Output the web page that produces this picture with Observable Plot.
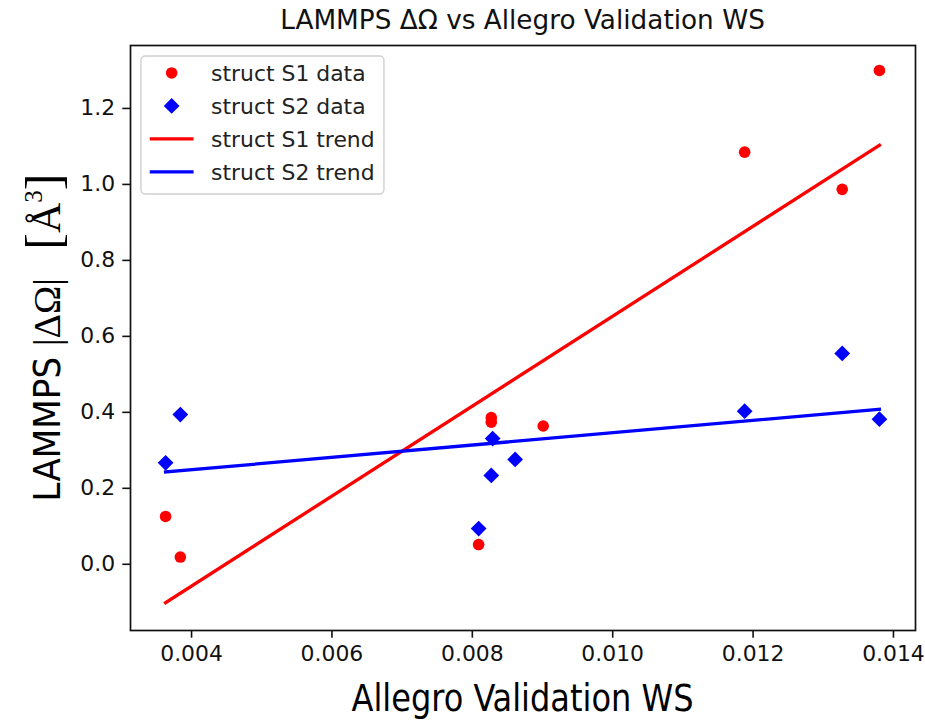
<!DOCTYPE html>
<html>
<head>
<meta charset="utf-8">
<script src="https://cdn.jsdelivr.net/npm/d3@7"></script>
<script src="https://cdn.jsdelivr.net/npm/@observablehq/plot@0.6"></script>
<style>
  html, body { margin: 0; padding: 0; background: #fff; }
  #chart { width: 925px; height: 723px; }
</style>
</head>
<body>
<div id="chart"></div>
<script>
// Validation Wasserstein distance (x) and LAMMPS |ΔΩ| in Å³ (y) for two structures
const s1Ws    = [0.00363, 0.00384, 0.00809, 0.00827, 0.00827, 0.00901, 0.01188, 0.01327, 0.01380];
const s1Omega = [0.126,   0.019,   0.052,   0.386,   0.374,   0.364,   1.085,   0.987,   1.300];
const s2Ws    = [0.00363, 0.00384, 0.00809, 0.00827, 0.00829, 0.00861, 0.01188, 0.01327, 0.01380];
const s2Omega = [0.267,   0.394,   0.094,   0.234,   0.331,   0.276,   0.403,   0.555,   0.382];

// Linear trend lines, evaluated at the ends of the WS range
const trendWs      = [0.00363, 0.01380];
const s1TrendOmega = [-0.101, 1.103];
const s2TrendOmega = [0.243, 0.408];

const xTicks = [0.004, 0.006, 0.008, 0.010, 0.012, 0.014];
const yTicks = [0.0, 0.2, 0.4, 0.6, 0.8, 1.0, 1.2];
const seriesLabels = ["struct S1 data", "struct S2 data", "struct S1 trend", "struct S2 trend"];
const seriesColors = ["#ff0000", "#0000ff", "#ff0000", "#0000ff"];

const titleText = "LAMMPS ΔΩ vs Allegro Validation WS";
const xLabelText = "Allegro Validation WS";

const W = 925, H = 723;
const mL = 130, mR = 10, mT = 45, mB = 93;
const FS = 21.9;

const rows = (xs, ys) => xs.map((x, i) => ({ws: x, omega: ys[i]}));
const s1 = rows(s1Ws, s1Omega);
const s2 = rows(s2Ws, s2Omega);
const s1Trend = rows(trendWs, s1TrendOmega);
const s2Trend = rows(trendWs, s2TrendOmega);

const chart = Plot.plot({
  width: W,
  height: H,
  marginLeft: mL,
  marginRight: mR,
  marginTop: mT,
  marginBottom: mB,
  x: {domain: [0.00313, 0.014314]},
  y: {domain: [-0.1743, 1.3657]},
  style: {fontFamily: "DejaVu Sans", fontSize: FS + "px", color: "#111", background: "#fff", overflow: "visible"},
  marks: [
    Plot.dot(s1, {x: "ws", y: "omega", r: 5.8, fill: seriesColors[0], symbol: "circle"}),
    Plot.dot(s2, {x: "ws", y: "omega", r: 7.1, fill: seriesColors[1], symbol: "diamond2"}),
    Plot.line(s1Trend, {x: "ws", y: "omega", stroke: seriesColors[2], strokeWidth: 3.3, strokeLinecap: "square"}),
    Plot.line(s2Trend, {x: "ws", y: "omega", stroke: seriesColors[3], strokeWidth: 3.3, strokeLinecap: "square"}),
    Plot.axisX({ticks: xTicks, tickFormat: d3.format(".3f"), tickSize: 7.7, tickPadding: 7.7, label: null, strokeWidth: 1.6}),
    Plot.axisY({ticks: yTicks, tickFormat: d3.format(".1f"), tickSize: 7.7, tickPadding: 7.7, label: null, strokeWidth: 1.6}),
    Plot.frame({stroke: "#111", strokeWidth: 1.7})
  ]
});

document.getElementById("chart").appendChild(chart);
const svg = d3.select(chart);
const plotCx = (mL + W - mR) / 2;
const plotCy = (mT + H - mB) / 2;

// Title
svg.append("text")
  .attr("x", plotCx).attr("y", 29)
  .attr("text-anchor", "middle")
  .attr("font-family", "DejaVu Sans")
  .attr("font-size", 26.3)
  .attr("fill", "#111")
  .text(titleText);

// X axis label
svg.append("text")
  .attr("x", plotCx).attr("y", 711)
  .attr("text-anchor", "middle")
  .attr("font-family", "'Liberation Sans Narrow', 'DejaVu Sans Condensed', 'Liberation Sans', sans-serif")
  .attr("font-size", 37)
  .attr("textLength", 342)
  .attr("lengthAdjust", "spacingAndGlyphs")
  .attr("fill", "#000")
  .text(xLabelText);

// Y axis label: LAMMPS |ΔΩ| [Å³]
const yl = svg.append("text")
  .attr("transform", `translate(60,${plotCy}) rotate(-90)`)
  .attr("text-anchor", "middle")
  .attr("fill", "#000")
  .attr("font-size", 38);
yl.append("tspan").attr("font-family", "'Liberation Sans Narrow', 'DejaVu Sans Condensed', sans-serif").text("LAMMPS ");
yl.append("tspan").attr("font-family", "'Liberation Serif', serif").text("|ΔΩ|   ");
yl.append("tspan").attr("font-family", "'Liberation Serif', serif").attr("font-size", 50).text("[");
yl.append("tspan").attr("font-family", "'Liberation Serif', serif").attr("font-size", 42).text("Å");
yl.append("tspan").attr("font-family", "'Liberation Serif', serif").attr("font-size", 25).attr("dy", -18).text("3");
yl.append("tspan").attr("font-family", "'Liberation Serif', serif").attr("font-size", 50).attr("dy", 18).text("]");

// Legend box in the upper-left corner of the frame
const pad = 0.5 * FS;
const lg = svg.append("g").attr("transform", `translate(${mL + pad},${mT + pad})`);
lg.append("rect")
  .attr("x", 0).attr("y", 0)
  .attr("width", 243).attr("height", 138)
  .attr("rx", 4.4).attr("ry", 4.4)
  .attr("fill", "#fff").attr("fill-opacity", 0.8)
  .attr("stroke", "#d0d0d0").attr("stroke-width", 1.4);
seriesLabels.forEach((label, i) => {
  const cy = 17 + i * 33;
  const hx0 = 8.8, hx1 = 8.8 + 2 * FS;
  const hc = (hx0 + hx1) / 2;
  if (i === 0) {
    lg.append("circle").attr("cx", hc).attr("cy", cy).attr("r", 5.8).attr("fill", seriesColors[i]);
  } else if (i === 1) {
    lg.append("path").attr("d", d3.symbol(d3.symbolDiamond2, Math.PI * 7.1 * 7.1)())
      .attr("transform", `translate(${hc},${cy})`).attr("fill", seriesColors[i]);
  } else {
    lg.append("line").attr("x1", hx0).attr("x2", hx1).attr("y1", cy).attr("y2", cy)
      .attr("stroke", seriesColors[i]).attr("stroke-width", 3.3);
  }
  lg.append("text")
    .attr("x", hx1 + 0.8 * FS).attr("y", cy).attr("dy", "0.35em")
    .attr("text-anchor", "start")
    .attr("font-family", "DejaVu Sans").attr("font-size", FS).attr("fill", "#222")
    .text(label);
});
</script>
</body>
</html>
